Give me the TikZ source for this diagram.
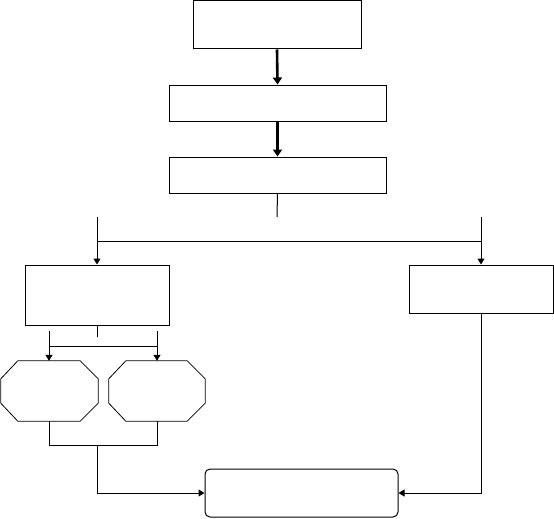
\documentclass[tikz,border=0pt]{standalone}
\usetikzlibrary{arrows.meta,calc}
\begin{document}
\begin{tikzpicture}[x=1pt,y=-1pt,
  box/.style={draw,line width=1pt,inner sep=0pt,minimum width=#1},
  ghost/.style={inner sep=0pt},
  thin/.style={line width=1pt},
  arr/.style={line width=1pt,-{Triangle[length=6pt,width=7pt]}},
  thickarr/.style={line width=2.6pt,-{Triangle[length=7pt,width=9pt]}},
  octo/.style={line width=0.8pt}]
\useasboundingbox (0,0) rectangle (554,519);
\node[box=168pt,minimum height=48pt] (b1) at (277,25) {};
\node[box=217pt,minimum height=36pt] (b2) at (277.5,103) {};
\node[box=217pt,minimum height=36pt] (b3) at (277.5,175) {};
\node[box=144pt,minimum height=60pt] (l) at (97,295) {};
\node[box=144pt,minimum height=48pt] (r) at (481,289) {};
\node[ghost,minimum width=97pt,minimum height=60pt] (o1) at (49.5,391) {};
\node[ghost,minimum width=96pt,minimum height=60pt] (o2) at (157,391) {};
\node[box=193pt,minimum height=48pt,rounded corners=5pt] (b) at (301.5,493) {};
% octagons
\foreach \o in {o1,o2}{
  \draw[octo] ($(\o.north west)+(17,0)$) -- ($(\o.north east)+(-18,0)$)
    -- ($(\o.north east)+(0,18)$) -- ($(\o.south east)+(0,-18)$)
    -- ($(\o.south east)+(-18,0)$) -- ($(\o.south west)+(17,0)$)
    -- ($(\o.south west)+(0,-18)$) -- ($(\o.north west)+(0,18)$) -- cycle;
}
% coordinates
\coordinate (s0) at (277,217);
\coordinate (a1) at (97,217);
\coordinate (a2) at (481,217);
\coordinate (h1) at (97,241);
\coordinate (h2) at (481,241);
\coordinate (s1) at (97,337);
\coordinate (c1) at (49,331);
\coordinate (c2) at (157,331);
\coordinate (k1) at (49,346);
\coordinate (k2) at (157,346);
\coordinate (m1) at (49,445);
\coordinate (m2) at (157,445);
\coordinate (m0) at (97,445);
% connectors
\draw[thickarr] (b1.south) -- (b2.north);
\draw[thickarr] (b2.south) -- (b3.north);
\draw[thin] (b3.south) -- (s0);
\draw[arr] (a1) -- (l.north);
\draw[arr] (a2) -- (r.north);
\draw[thin] (h1) -- (h2);
\draw[thin] (l.south) -- (s1);
\draw[arr] (c1) -- (o1.north -| c1);
\draw[arr] (c2) -- (o2.north -| c2);
\draw[thin] (k1) -- (k2);
\draw[thin] (o1.south -| m1) -- (m1) -- (m2) -- (o2.south -| m2);
\draw[arr] (m0) |- (b.west);
\draw[arr] (r.south) |- (b.east);
\end{tikzpicture}
\end{document}
